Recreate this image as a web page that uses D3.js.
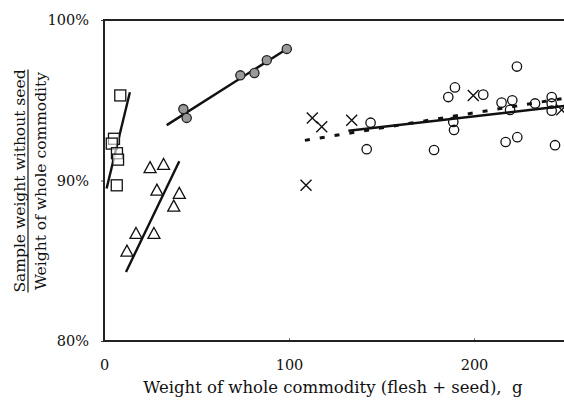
<!DOCTYPE html>
<html>
<head>
<meta charset="utf-8">
<script src="https://cdn.jsdelivr.net/npm/d3@7"></script>
<style>
  body { margin: 0; background: #fff; }
  svg { display: block; }
  text { font-family: "DejaVu Serif", "Liberation Serif", serif; fill: #111; }
</style>
</head>
<body>
<div id="chart"></div>
<script>
// series (x = g, y = %)
var squareX = [8.8, 5.4, 4.2, 7.0, 7.6, 6.9];
var squareY = [95.3, 92.6, 92.3, 91.7, 91.3, 89.7];

var triangleX = [24.9, 32.2, 28.6, 40.7, 37.7, 17.3, 27.0, 12.4];
var triangleY = [90.8, 91.0, 89.4, 89.2, 88.4, 86.7, 86.7, 85.6];

var grayX = [42.9, 44.7, 73.7, 81.3, 88.0, 98.8];
var grayY = [94.45, 93.9, 96.55, 96.7, 97.5, 98.2];

var crossX = [112.6, 117.7, 133.9, 109.2, 199.6, 247.4];
var crossY = [93.9, 93.35, 93.75, 89.7, 95.3, 94.4];

var circleX = [144.1, 142.0, 178.4, 186.1, 189.7, 188.8, 189.2, 205.0, 214.9, 220.7,
               219.5, 217.1, 223.4, 223.2, 233.0, 242.0, 242.0, 242.0, 243.8];
var circleY = [93.6, 91.95, 91.9, 95.2, 95.8, 93.65, 93.15, 95.35, 94.85, 95.0,
               94.4, 92.4, 92.7, 97.1, 94.8, 95.2, 94.8, 94.35, 92.2];

// fitted lines: [x0, y0, x1, y1]
var squareFit = [1.4, 89.5, 14.0, 95.5];
var triangleFit = [11.9, 84.3, 40.7, 91.2];
var grayFit = [33.9, 93.45, 98.8, 98.2];
var circleFit = [132.1, 93.1, 250, 94.66];
var crossFit = [108.6, 92.5, 250, 95.15];

var xTicks = [0, 100, 200];
var yTicks = [80, 90, 100];

var width = 564, height = 401;
var svg = d3.select("#chart").append("svg")
    .attr("width", width)
    .attr("height", height);

var x = d3.scaleLinear().domain([0, 250]).range([104, 566.5]);
var y = d3.scaleLinear().domain([80, 100]).range([341, 20]);

// axes
var yAxis = svg.append("g")
    .attr("transform", "translate(104,0)")
    .call(d3.axisLeft(y).tickValues(yTicks).tickSize(3).tickPadding(12).tickFormat(d => d + "%"));
yAxis.select(".domain").remove();
yAxis.selectAll("text").style("font-size", "14.5px").attr("fill", "#111");
yAxis.selectAll("line").attr("stroke", "#444");

var xAxis = svg.append("g")
    .attr("transform", "translate(0,341)")
    .call(d3.axisBottom(x).tickValues(xTicks).tickSize(-3).tickPadding(19));
xAxis.select(".domain").remove();
xAxis.selectAll("text").style("font-size", "14.5px").attr("fill", "#111");
xAxis.selectAll("line").attr("stroke", "#777");

// frame
svg.append("line").attr("x1", 103).attr("x2", 566).attr("y1", 20).attr("y2", 20)
    .attr("stroke", "#222").attr("stroke-width", 2);
svg.append("line").attr("x1", 103).attr("x2", 566).attr("y1", 341).attr("y2", 341)
    .attr("stroke", "#222").attr("stroke-width", 2);
svg.append("line").attr("x1", 104).attr("x2", 104).attr("y1", 19).attr("y2", 342)
    .attr("stroke", "#222").attr("stroke-width", 2);

// fit lines
function fitLine(f, dashed) {
    svg.append("line")
        .attr("x1", x(f[0])).attr("y1", y(f[1]))
        .attr("x2", x(f[2])).attr("y2", y(f[3]))
        .attr("stroke", "#111")
        .attr("stroke-width", dashed ? 3 : 2.4)
        .attr("stroke-dasharray", dashed ? "5,10" : null);
}
fitLine(squareFit, false);
fitLine(triangleFit, false);
fitLine(grayFit, false);
fitLine(crossFit, true);
fitLine(circleFit, false);

function pts(xs, ys) { return xs.map((v, i) => [v, ys[i]]); }

// squares
svg.append("g").selectAll("rect")
    .data(pts(squareX, squareY))
    .enter().append("rect")
    .attr("x", d => x(d[0]) - 5.5).attr("y", d => y(d[1]) - 5.5)
    .attr("width", 11).attr("height", 11)
    .attr("fill", "white").attr("fill-opacity", 0.6)
    .attr("stroke", "#111").attr("stroke-width", 1.3);

// triangles
svg.append("g").selectAll("path")
    .data(pts(triangleX, triangleY))
    .enter().append("path")
    .attr("d", d => {
        var cx = x(d[0]), cy = y(d[1]);
        return "M" + cx + "," + (cy - 6) + "L" + (cx + 6) + "," + (cy + 5) + "L" + (cx - 6) + "," + (cy + 5) + "Z";
    })
    .attr("fill", "none").attr("stroke", "#111").attr("stroke-width", 1.3);

// gray dots
svg.append("g").selectAll("circle")
    .data(pts(grayX, grayY))
    .enter().append("circle")
    .attr("cx", d => x(d[0])).attr("cy", d => y(d[1])).attr("r", 4.6)
    .attr("fill", "#999").attr("stroke", "#222").attr("stroke-width", 1.3);

// open circles
svg.append("g").selectAll("circle")
    .data(pts(circleX, circleY))
    .enter().append("circle")
    .attr("cx", d => x(d[0])).attr("cy", d => y(d[1])).attr("r", 4.7)
    .attr("fill", "none").attr("stroke", "#111").attr("stroke-width", 1.3);

// crosses
svg.append("g").selectAll("path")
    .data(pts(crossX, crossY))
    .enter().append("path")
    .attr("d", d => {
        var cx = x(d[0]), cy = y(d[1]), s = 5.5;
        return "M" + (cx - s) + "," + (cy - s) + "L" + (cx + s) + "," + (cy + s) +
               "M" + (cx + s) + "," + (cy - s) + "L" + (cx - s) + "," + (cy + s);
    })
    .attr("stroke", "#111").attr("stroke-width", 1.4);

// axis titles
svg.append("text")
    .attr("x", 333).attr("y", 393)
    .attr("text-anchor", "middle")
    .style("font-size", "16.5px")
    .text("Weight of whole commodity (flesh + seed),\u00a0 g");

var numTxt = svg.append("text")
    .attr("transform", "translate(25,181) rotate(-90)")
    .attr("text-anchor", "middle")
    .style("font-size", "15.5px")
    .text("Sample weight without seed");
var len = numTxt.node().getComputedTextLength();
svg.append("line")
    .attr("x1", 28).attr("x2", 28)
    .attr("y1", 181 - len / 2).attr("y2", 181 + len / 2)
    .attr("stroke", "#111").attr("stroke-width", 1.2);

svg.append("text")
    .attr("transform", "translate(46,181) rotate(-90)")
    .attr("text-anchor", "middle")
    .style("font-size", "15.5px")
    .text("Weight of whole commodity");
</script>
</body>
</html>
